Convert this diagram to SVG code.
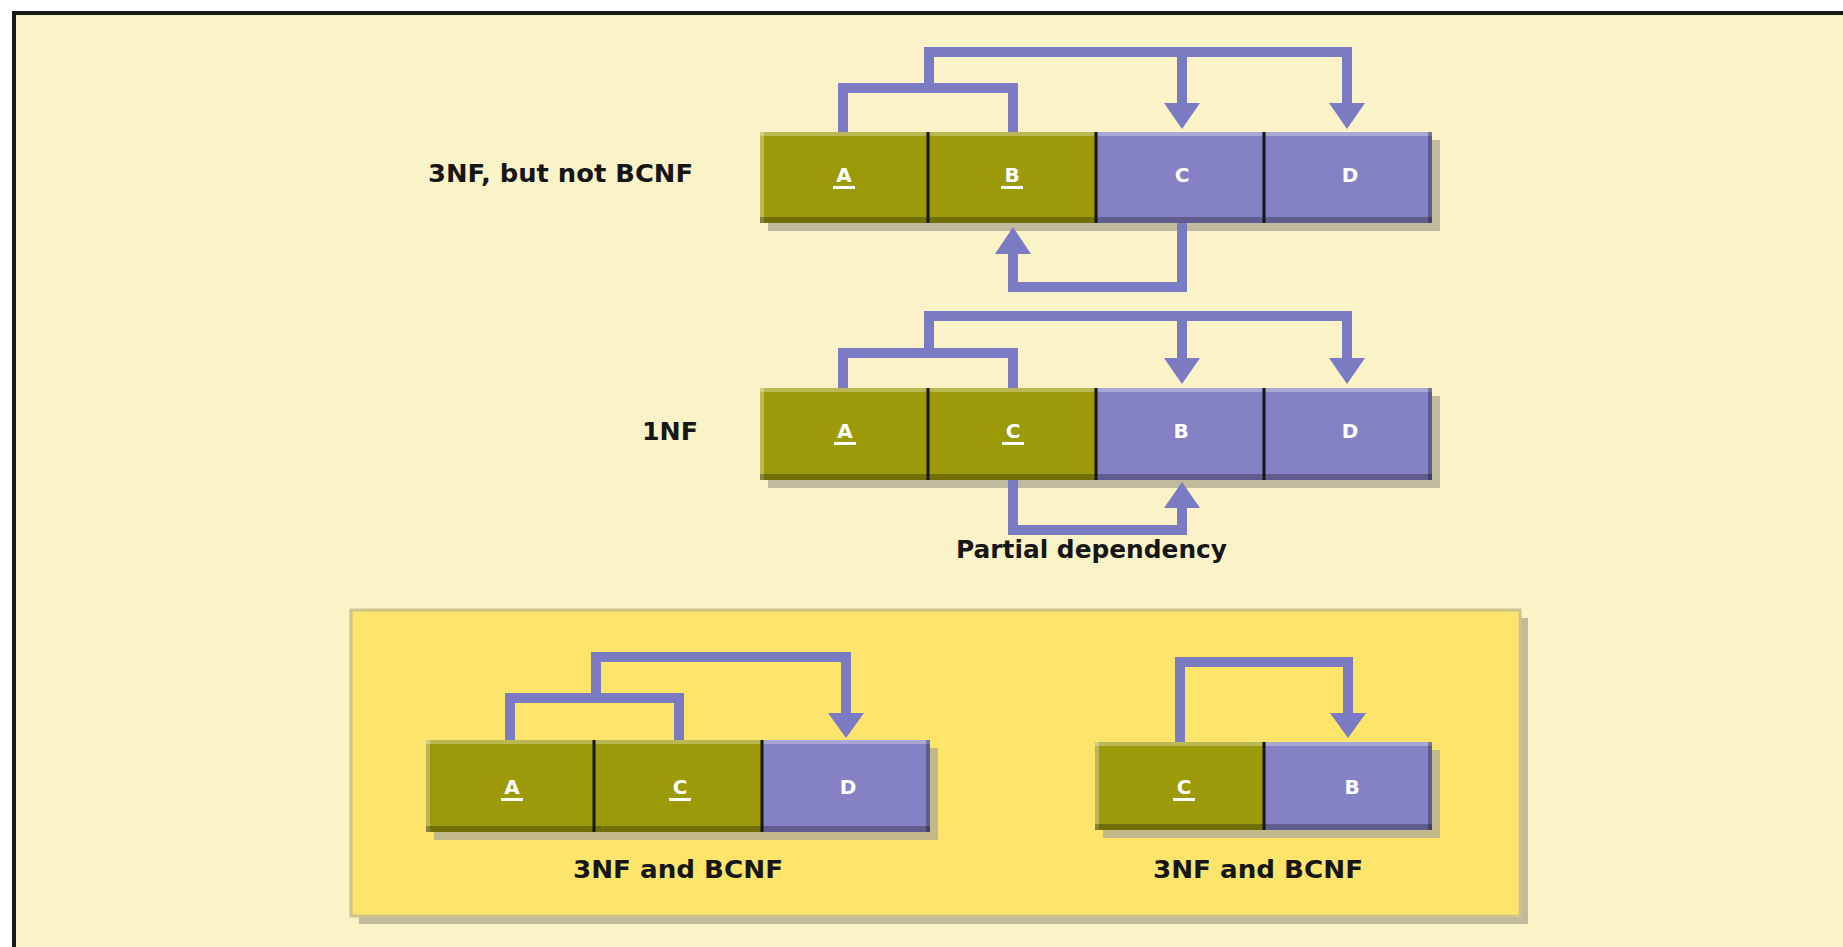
<svg xmlns="http://www.w3.org/2000/svg" width="1843" height="947" viewBox="0 0 1843 947">
<defs>
<style>
.lbl{font-family:"DejaVu Sans","Liberation Sans",sans-serif;font-weight:bold;fill:#161616;font-size:24px}
.cell{font-family:"DejaVu Sans","Liberation Sans",sans-serif;font-weight:bold;fill:#fff;font-size:20px;text-anchor:middle}
.ol{fill:#9c9a08}
.pu{fill:#8482c4}
.sep{stroke:#151515;stroke-width:3}
.shadow{fill:#b3ac92;opacity:0.8}
.hi{fill:#fff;opacity:0.3}
.lo{fill:#000;opacity:0.28}
.conn{fill:none;stroke:#7b7bc4;stroke-width:10;stroke-linejoin:miter}
.head{fill:#7b7bc4}
.ul{fill:#fff}
</style>
</defs>
<rect x="0" y="0" width="1843" height="947" fill="#ffffff"/>
<rect x="14" y="13" width="1829" height="934" fill="#fbf3c8"/>
<path d="M14,947 V13 H1843" fill="none" stroke="#1a1a1a" stroke-width="4"/>

<g id="bcnf-box">
<rect x="359" y="618" width="1169" height="306" class="shadow"/>
<rect x="351" y="610" width="1169" height="306" fill="#fde56c" stroke="#cfc48a" stroke-width="3"/>
</g>

<g id="label-3nf"><text class="lbl" x="428" y="182" textLength="265" lengthAdjust="spacingAndGlyphs">3NF, but not BCNF</text></g>
<g id="label-1nf"><text class="lbl" x="642" y="440" textLength="56" lengthAdjust="spacingAndGlyphs">1NF</text></g>
<g id="label-partial"><text class="lbl" x="956" y="558" textLength="271" lengthAdjust="spacingAndGlyphs">Partial dependency</text></g>
<g id="label-bcnf1"><text class="lbl" x="573" y="878" textLength="210" lengthAdjust="spacingAndGlyphs">3NF and BCNF</text></g>
<g id="label-bcnf2"><text class="lbl" x="1153" y="878" textLength="210" lengthAdjust="spacingAndGlyphs">3NF and BCNF</text></g>

<g id="table1">
<rect x="768" y="140" width="672" height="91" class="shadow"/>
<rect x="760" y="132" width="336" height="91" class="ol"/>
<rect x="1096" y="132" width="336" height="91" class="pu"/>
<rect x="760" y="132" width="672" height="4" class="hi"/>
<rect x="760" y="132" width="4" height="91" class="hi"/>
<rect x="760" y="217" width="672" height="6" class="lo"/>
<rect x="1428" y="132" width="4" height="91" class="lo"/>
<line x1="928" y1="132" x2="928" y2="223" class="sep"/>
<line x1="1096" y1="132" x2="1096" y2="223" class="sep"/>
<line x1="1264" y1="132" x2="1264" y2="223" class="sep"/>
<text class="cell" x="844" y="182">A</text><rect x="833" y="186" width="22" height="3" class="ul"/>
<text class="cell" x="1012" y="182">B</text><rect x="1001" y="186" width="22" height="3" class="ul"/>
<text class="cell" x="1182" y="182">C</text>
<text class="cell" x="1350" y="182">D</text>
</g>

<g id="table2">
<rect x="768" y="396" width="672" height="92" class="shadow"/>
<rect x="760" y="388" width="336" height="92" class="ol"/>
<rect x="1096" y="388" width="336" height="92" class="pu"/>
<rect x="760" y="388" width="672" height="4" class="hi"/>
<rect x="760" y="388" width="4" height="92" class="hi"/>
<rect x="760" y="474" width="672" height="6" class="lo"/>
<rect x="1428" y="388" width="4" height="92" class="lo"/>
<line x1="928" y1="388" x2="928" y2="480" class="sep"/>
<line x1="1096" y1="388" x2="1096" y2="480" class="sep"/>
<line x1="1264" y1="388" x2="1264" y2="480" class="sep"/>
<text class="cell" x="845" y="438">A</text><rect x="834" y="442" width="22" height="3" class="ul"/>
<text class="cell" x="1013" y="438">C</text><rect x="1002" y="442" width="22" height="3" class="ul"/>
<text class="cell" x="1181" y="438">B</text>
<text class="cell" x="1350" y="438">D</text>
</g>

<g id="table3">
<rect x="434" y="748" width="504" height="92" class="shadow"/>
<rect x="426" y="740" width="336" height="92" class="ol"/>
<rect x="762" y="740" width="168" height="92" class="pu"/>
<rect x="426" y="740" width="504" height="4" class="hi"/>
<rect x="426" y="740" width="4" height="92" class="hi"/>
<rect x="426" y="826" width="504" height="6" class="lo"/>
<rect x="926" y="740" width="4" height="92" class="lo"/>
<line x1="594" y1="740" x2="594" y2="832" class="sep"/>
<line x1="762" y1="740" x2="762" y2="832" class="sep"/>
<text class="cell" x="512" y="794">A</text><rect x="501" y="798" width="22" height="3" class="ul"/>
<text class="cell" x="680" y="794">C</text><rect x="669" y="798" width="22" height="3" class="ul"/>
<text class="cell" x="848" y="794">D</text>
</g>

<g id="table4">
<rect x="1103" y="750" width="337" height="88" class="shadow"/>
<rect x="1095" y="742" width="169" height="88" class="ol"/>
<rect x="1264" y="742" width="168" height="88" class="pu"/>
<rect x="1095" y="742" width="337" height="4" class="hi"/>
<rect x="1095" y="742" width="4" height="88" class="hi"/>
<rect x="1095" y="824" width="337" height="6" class="lo"/>
<rect x="1428" y="742" width="4" height="88" class="lo"/>
<line x1="1264" y1="742" x2="1264" y2="830" class="sep"/>
<text class="cell" x="1184" y="794">C</text><rect x="1173" y="798" width="22" height="3" class="ul"/>
<text class="cell" x="1352" y="794">B</text>
</g>

<g id="connectors">
<path class="conn" d="M843,132 V88 H1013 V132"/>
<path class="conn" d="M929,88 V52 H1347 V105"/>
<path class="conn" d="M1182,52 V105"/>
<polygon class="head" points="1164,103 1200,103 1182,129"/>
<polygon class="head" points="1329,103 1365,103 1347,129"/>
<path class="conn" d="M1182,223 V287 H1013 V252"/>
<polygon class="head" points="995,254 1031,254 1013,227"/>

<path class="conn" d="M843,388 V353 H1013 V388"/>
<path class="conn" d="M929,353 V316 H1347 V360"/>
<path class="conn" d="M1182,316 V360"/>
<polygon class="head" points="1164,358 1200,358 1182,384"/>
<polygon class="head" points="1329,358 1365,358 1347,384"/>
<path class="conn" d="M1013,480 V530 H1182 V506"/>
<polygon class="head" points="1164,508 1200,508 1182,482"/>

<path class="conn" d="M510,740 V698 H679 V740"/>
<path class="conn" d="M596,698 V657 H846 V715"/>
<polygon class="head" points="828,713 864,713 846,738"/>

<path class="conn" d="M1180,742 V662 H1348 V715"/>
<polygon class="head" points="1330,713 1366,713 1348,738"/>
</g>
</svg>
